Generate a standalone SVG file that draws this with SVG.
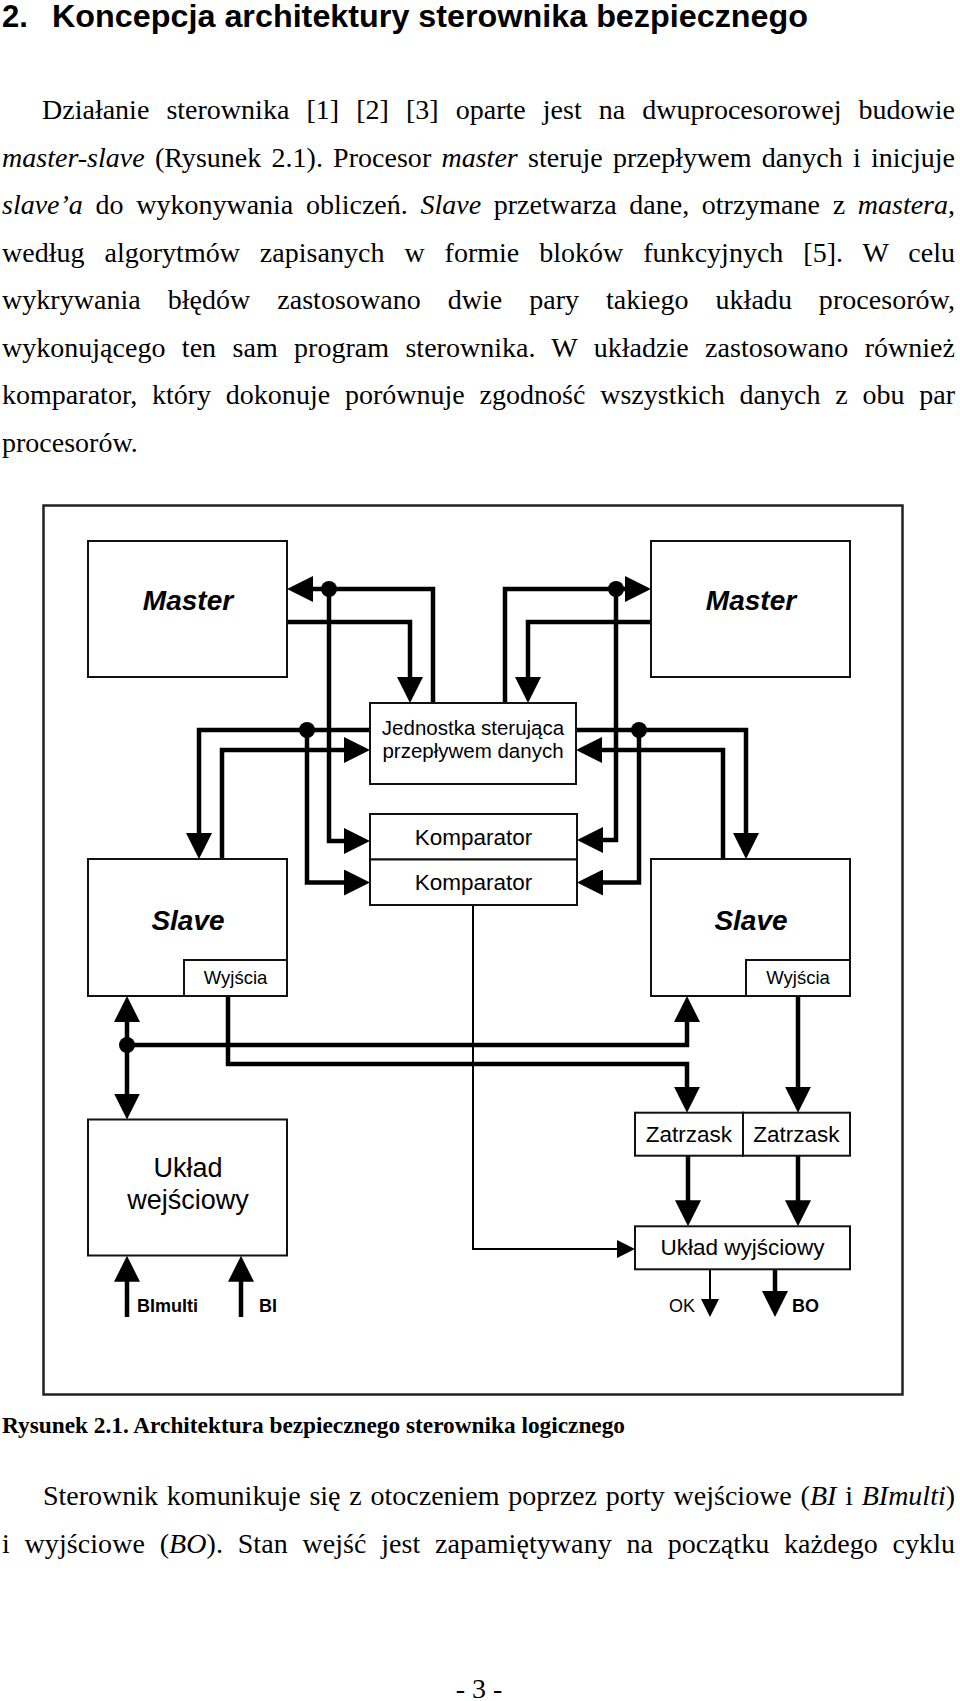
<svg xmlns="http://www.w3.org/2000/svg" width="960" height="1701" viewBox="0 0 960 1701">
<style>
.serif{font-family:'Liberation Serif','Times New Roman',serif;fill:#000}
.body{font-size:28px}
.sans{font-family:'Liberation Sans',Arial,sans-serif;fill:#000}
.box{fill:#fff;stroke:#111;stroke-width:2}
.thick{fill:none;stroke:#000;stroke-width:4.5;stroke-linejoin:miter}
.thin{fill:none;stroke:#000;stroke-width:2}
.big{font-size:28px;font-weight:bold;font-style:italic}
</style>
<defs>
<marker id="ah" markerUnits="userSpaceOnUse" markerWidth="26" markerHeight="26" refX="16" refY="13" orient="auto"><path d="M0,0 L26,13 L0,26 z" fill="#000"/></marker>
<marker id="as" markerUnits="userSpaceOnUse" markerWidth="18" markerHeight="18" refX="12" refY="9" orient="auto"><path d="M0,0 L18,9 L0,18 z" fill="#000"/></marker>
</defs>
<rect width="960" height="1701" fill="#fff"/>

<g id="heading" class="sans" font-weight="bold" font-size="31">
<text x="2" y="27">2.</text>
<text x="52" y="27" textLength="756" lengthAdjust="spacingAndGlyphs">Koncepcja architektury sterownika bezpiecznego</text>
</g>

<g id="paragraph1" class="serif body">
<text x="42" y="119" word-spacing="10.1" textLength="913" lengthAdjust="spacing">Działanie sterownika [1] [2] [3] oparte jest na dwuprocesorowej budowie</text>
<text x="2" y="166.5" word-spacing="3.2" textLength="953" lengthAdjust="spacing"><tspan font-style="italic">master-slave</tspan> (Rysunek 2.1). Procesor <tspan font-style="italic">master</tspan> steruje przepływem danych i inicjuje</text>
<text x="2" y="214" word-spacing="5.7" textLength="953" lengthAdjust="spacing"><tspan font-style="italic">slave’a</tspan> do wykonywania obliczeń. <tspan font-style="italic">Slave</tspan> przetwarza dane, otrzymane z <tspan font-style="italic">mastera</tspan>,</text>
<text x="2" y="261.5" word-spacing="12.9" textLength="953" lengthAdjust="spacing">według algorytmów zapisanych w formie bloków funkcyjnych [5]. W celu</text>
<text x="2" y="309" word-spacing="19.9" textLength="953" lengthAdjust="spacing">wykrywania błędów zastosowano dwie pary takiego układu procesorów,</text>
<text x="2" y="356.5" word-spacing="9.4" textLength="953" lengthAdjust="spacing">wykonującego ten sam program sterownika. W układzie zastosowano również</text>
<text x="2" y="404" word-spacing="7.7" textLength="953" lengthAdjust="spacing">komparator, który dokonuje porównuje zgodność wszystkich danych z obu par</text>
<text x="2" y="451.5">procesorów.</text>
</g>

<rect id="frame" x="43.5" y="505.5" width="859" height="889" fill="none" stroke="#222" stroke-width="2.5"/>

<g id="connectors">
<path class="thick" d="M287,622 H410 V693" marker-end="url(#ah)"/>
<path class="thick" d="M433,703 V589 H297" marker-end="url(#ah)"/>
<path class="thick" d="M329,589 V841 H360" marker-end="url(#ah)"/>
<path class="thick" d="M370,730 H199 V849" marker-end="url(#ah)"/>
<path class="thick" d="M307,730 V882.5 H360" marker-end="url(#ah)"/>
<path class="thick" d="M222,859 V750 H360" marker-end="url(#ah)"/>
<path class="thick" d="M651,622 H528 V693" marker-end="url(#ah)"/>
<path class="thick" d="M505,703 V589 H641" marker-end="url(#ah)"/>
<path class="thick" d="M616,589 V840 H587" marker-end="url(#ah)"/>
<path class="thick" d="M576,730 H746 V849" marker-end="url(#ah)"/>
<path class="thick" d="M639,730 V882.5 H587" marker-end="url(#ah)"/>
<path class="thick" d="M723,859 V750 H586" marker-end="url(#ah)"/>
<path class="thick" d="M127,1045 V1006" marker-end="url(#ah)"/>
<path class="thick" d="M127,1045 V1109.5" marker-end="url(#ah)"/>
<path class="thick" d="M127,1045 H687 V1006" marker-end="url(#ah)"/>
<path class="thick" d="M228,996 V1064 H687 V1102.7" marker-end="url(#ah)"/>
<path class="thick" d="M798,996 V1102.7" marker-end="url(#ah)"/>
<path class="thick" d="M688,1155.7 V1216.3" marker-end="url(#ah)"/>
<path class="thick" d="M798,1155.7 V1216.3" marker-end="url(#ah)"/>
<path class="thin" d="M473,905 V1249 H629" marker-end="url(#as)"/>
<path class="thin" d="M710,1269.3 V1311" marker-end="url(#as)"/>
<path class="thick" d="M775,1269.3 V1307" marker-end="url(#ah)"/>
<path class="thick" d="M127,1317 V1265.7" marker-end="url(#ah)"/>
<path class="thick" d="M241,1317 V1265.7" marker-end="url(#ah)"/>
<circle cx="329" cy="589" r="8"/>
<circle cx="307" cy="730" r="8"/>
<circle cx="616" cy="589" r="8"/>
<circle cx="639" cy="730" r="8"/>
<circle cx="127" cy="1045" r="8"/>
</g>

<g id="master-left">
<rect class="box" x="88" y="541" width="199" height="136"/>
<text class="sans big" x="188" y="610" text-anchor="middle">Master</text>
</g>
<g id="master-right">
<rect class="box" x="651" y="541" width="199" height="136"/>
<text class="sans big" x="751" y="610" text-anchor="middle">Master</text>
</g>
<g id="jednostka">
<rect class="box" x="370" y="703" width="206" height="81"/>
<text class="sans" font-size="20.5" x="473" y="735" text-anchor="middle">Jednostka sterująca</text>
<text class="sans" font-size="20.5" x="473" y="758" text-anchor="middle">przepływem danych</text>
</g>
<g id="komparator1">
<rect class="box" x="370" y="814" width="207" height="45.5"/>
<text class="sans" font-size="22.5" x="473.5" y="845" text-anchor="middle">Komparator</text>
</g>
<g id="komparator2">
<rect class="box" x="370" y="859.5" width="207" height="45.5"/>
<text class="sans" font-size="22.5" x="473.5" y="890" text-anchor="middle">Komparator</text>
</g>
<g id="slave-left">
<rect class="box" x="88" y="859" width="199" height="137"/>
<text class="sans big" x="188" y="930" text-anchor="middle">Slave</text>
<rect class="box" x="184" y="960" width="103" height="36"/>
<text class="sans" font-size="18.5" x="235.5" y="984" text-anchor="middle">Wyjścia</text>
</g>
<g id="slave-right">
<rect class="box" x="651" y="859" width="199" height="137"/>
<text class="sans big" x="751" y="930" text-anchor="middle">Slave</text>
<rect class="box" x="746" y="960" width="104" height="36"/>
<text class="sans" font-size="18.5" x="798" y="984" text-anchor="middle">Wyjścia</text>
</g>
<g id="uklad-wejsciowy">
<rect class="box" x="88" y="1119.5" width="199" height="136"/>
<text class="sans" font-size="27" x="188" y="1177" text-anchor="middle">Układ</text>
<text class="sans" font-size="27" x="188" y="1209" text-anchor="middle">wejściowy</text>
</g>
<g id="zatrzask-left">
<rect class="box" x="635" y="1112.7" width="108" height="43"/>
<text class="sans" font-size="22.5" x="689" y="1142" text-anchor="middle">Zatrzask</text>
</g>
<g id="zatrzask-right">
<rect class="box" x="743" y="1112.7" width="107" height="43"/>
<text class="sans" font-size="22.5" x="796.5" y="1142" text-anchor="middle">Zatrzask</text>
</g>
<g id="uklad-wyjsciowy">
<rect class="box" x="635" y="1226.3" width="215" height="43"/>
<text class="sans" font-size="22.5" x="742.5" y="1255" text-anchor="middle">Układ wyjściowy</text>
</g>
<g id="labels" class="sans" font-size="18">
<text x="137" y="1312" font-weight="bold">BImulti</text>
<text x="259" y="1312" font-weight="bold">BI</text>
<text x="695" y="1312" text-anchor="end">OK</text>
<text x="792" y="1312" font-weight="bold">BO</text>
</g>

<g id="caption" class="serif">
<text x="2" y="1433" font-size="22.5" font-weight="bold" textLength="623" lengthAdjust="spacingAndGlyphs">Rysunek 2.1. Architektura bezpiecznego sterownika logicznego</text>
</g>
<g id="paragraph2" class="serif body">
<text x="43" y="1505" word-spacing="1.8" textLength="912" lengthAdjust="spacing">Sterownik komunikuje się z otoczeniem poprzez porty wejściowe (<tspan font-style="italic">BI</tspan> i <tspan font-style="italic">BImulti</tspan>)</text>
<text x="2" y="1553" word-spacing="7.6" textLength="953" lengthAdjust="spacing">i wyjściowe (<tspan font-style="italic">BO</tspan>). Stan wejść jest zapamiętywany na początku każdego cyklu</text>
<text x="479" y="1698" text-anchor="middle">- 3 -</text>
</g>
</svg>
